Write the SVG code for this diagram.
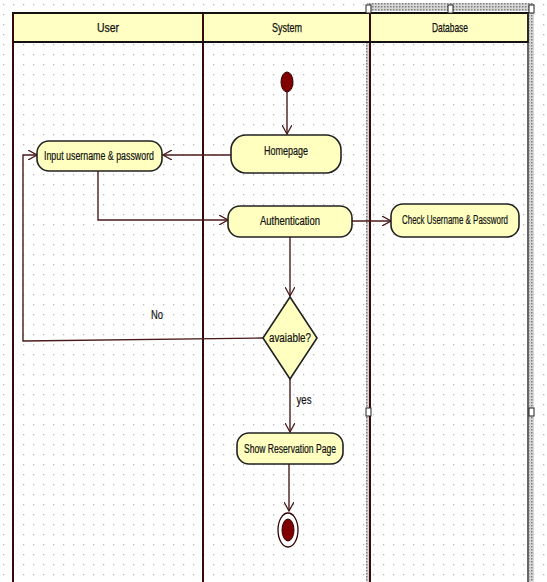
<svg xmlns="http://www.w3.org/2000/svg" width="547" height="582" viewBox="0 0 547 582">
  <style>
    .lane { stroke: #3a0a0a; stroke-width: 2; fill: none; }
    .hdr { fill: #ffffc4; stroke: #111; stroke-width: 2; }
    .hdrtext { font-family: "Liberation Sans", Arial, sans-serif; font-size: 13px; fill: #111; text-anchor: middle; stroke: #111; stroke-width: 0.25; }
    .act { fill: #ffffc0; stroke: #222; stroke-width: 1.6; }
    .lbl { font-family: "Liberation Sans", Arial, sans-serif; font-size: 12px; fill: #111; text-anchor: middle; stroke: #111; stroke-width: 0.2; }
    .flow { stroke: #4a1a1a; stroke-width: 1.4; fill: none; marker-end: url(#open); }
    .handle { fill: #fff; stroke: #222; stroke-width: 1; }
  </style>
  <defs>
    <pattern id="dots" width="10" height="10" patternUnits="userSpaceOnUse" x="3" y="4">
      <rect x="0" y="0" width="1.3" height="1.3" fill="#b8b8b8"/>
    </pattern>
    <pattern id="hatch" width="3" height="3" patternUnits="userSpaceOnUse">
      <rect width="3" height="3" fill="#d6d6d6"/>
      <rect width="1.5" height="1.5" fill="#808080"/>
    </pattern>
    <marker id="open" viewBox="0 0 10 10" refX="9" refY="5" markerWidth="10" markerHeight="10" markerUnits="userSpaceOnUse" orient="auto">
      <path d="M0,0 L9,5 L0,10" fill="none" stroke="#4a1a1a" stroke-width="1.3"/>
    </marker>
  </defs>

  <!-- background grid -->
  <rect width="547" height="582" fill="#fff"/>
  <rect width="547" height="582" fill="url(#dots)"/>

  <!-- selection frame on the Database lane -->
  <rect x="367" y="3" width="166" height="8" fill="url(#hatch)"/>
  <rect x="366" y="10" width="4" height="572" fill="url(#hatch)"/>
  <rect x="529" y="10" width="5" height="572" fill="url(#hatch)"/>

  <!-- swimlanes -->
  <g id="lanes">
    <rect class="hdr" x="13" y="13" width="515" height="29"/>
    <line class="lane" x1="13" y1="13" x2="13" y2="582"/>
    <line class="lane" x1="203" y1="13" x2="203" y2="582"/>
    <line class="lane" x1="370" y1="13" x2="370" y2="582"/>
    <line x1="528" y1="13" x2="528" y2="582" stroke="#333" stroke-width="1.5"/>
    <line x1="13" y1="42" x2="528" y2="42" stroke="#111" stroke-width="2"/>
    <text class="hdrtext" x="108" y="32" textLength="22" lengthAdjust="spacingAndGlyphs">User</text>
    <text class="hdrtext" x="287" y="32" textLength="30" lengthAdjust="spacingAndGlyphs">System</text>
    <text class="hdrtext" x="450" y="32" textLength="36" lengthAdjust="spacingAndGlyphs">Database</text>
  </g>

  <!-- selection handles -->
  <rect class="handle" x="366" y="5" width="5" height="8"/>
  <rect class="handle" x="448" y="5" width="5" height="8"/>
  <rect class="handle" x="529" y="5" width="5" height="8"/>
  <rect class="handle" x="366" y="408" width="5" height="8"/>
  <rect class="handle" x="529" y="408" width="5" height="8"/>

  <!-- connectors -->
  <g id="connectors">
    <line class="flow" x1="287" y1="92" x2="287" y2="134"/>
    <line class="flow" x1="231" y1="155" x2="163" y2="155"/>
    <polyline class="flow" points="98,171 98,220 228,220"/>
    <line class="flow" x1="352" y1="221" x2="391" y2="221"/>
    <line class="flow" x1="290" y1="237" x2="290" y2="296"/>
    <polyline class="flow" points="263,338 23,341 23,155 37,155"/>
    <line class="flow" x1="290" y1="379" x2="290" y2="432"/>
    <line class="flow" x1="289" y1="464" x2="289" y2="511"/>
    <text class="lbl" x="157" y="319" textLength="12" lengthAdjust="spacingAndGlyphs">No</text>
    <text class="lbl" x="304" y="404" textLength="15" lengthAdjust="spacingAndGlyphs">yes</text>
  </g>

  <!-- nodes -->
  <g id="start">
    <ellipse cx="287" cy="82" rx="6" ry="10" fill="#800000" stroke="#300" stroke-width="1"/>
  </g>

  <g id="homepage">
    <rect class="act" x="231" y="135" width="110" height="38" rx="15"/>
    <text class="lbl" x="286" y="155" textLength="44" lengthAdjust="spacingAndGlyphs">Homepage</text>
  </g>

  <g id="input">
    <rect class="act" x="37" y="141" width="125" height="30" rx="12"/>
    <text class="lbl" x="99" y="160" textLength="110" lengthAdjust="spacingAndGlyphs">Input username &amp; password</text>
  </g>

  <g id="authentication">
    <rect class="act" x="228" y="206" width="124" height="31" rx="12"/>
    <text class="lbl" x="290" y="225" textLength="60" lengthAdjust="spacingAndGlyphs">Authentication</text>
  </g>

  <g id="check">
    <rect class="act" x="391" y="204" width="128" height="33" rx="12"/>
    <text class="lbl" x="455" y="224" font-size="9" textLength="106" lengthAdjust="spacingAndGlyphs">Check Username &amp; Password</text>
  </g>

  <g id="decision">
    <polygon class="act" points="290,297 317,338 290,379 263,338"/>
    <text class="lbl" x="290" y="342" textLength="42" lengthAdjust="spacingAndGlyphs">avaiable?</text>
  </g>

  <g id="reservation">
    <rect class="act" x="237" y="433" width="106" height="31" rx="12"/>
    <text class="lbl" x="290" y="453" textLength="92" lengthAdjust="spacingAndGlyphs">Show Reservation Page</text>
  </g>

  <g id="end">
    <ellipse cx="288" cy="530" rx="10" ry="17" fill="#fff" stroke="#300" stroke-width="1.3"/>
    <ellipse cx="288" cy="530" rx="6" ry="11" fill="#800000" stroke="#300" stroke-width="1"/>
  </g>
</svg>
